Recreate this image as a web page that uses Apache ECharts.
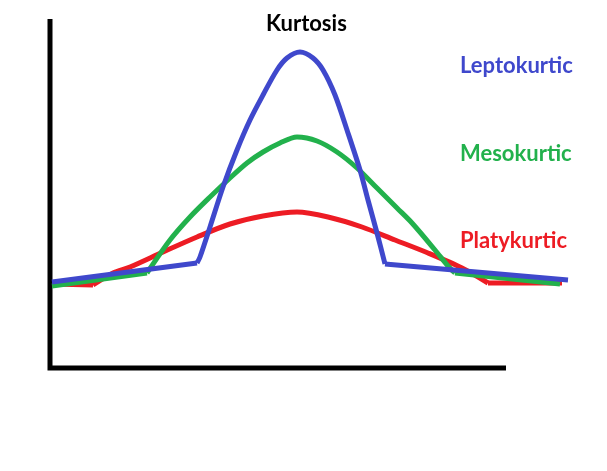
<!DOCTYPE html>
<html>
<head>
<meta charset="utf-8">
<script src="https://cdn.jsdelivr.net/npm/echarts@6/dist/echarts.min.js"></script>
<style>
  html, body { margin: 0; padding: 0; background: #fff; }
  #chart { width: 607px; height: 471px; }
</style>
</head>
<body>
<div id="chart"></div>
<script>
// hand drawn curves (x from the left axis, y up from the bottom axis)
// each curve = straight left tail, smooth bell, straight right tail
var leptoTails = [[[2,86],[147,105]], [[335,104],[518,88]]];
var leptoBell = [[147,105],[150,111],[160,141],[173,181],[187,218],[200,248],[213,273],[227,298],[237,310],[250,316],[263,310],[273,298],[285,273],[297,238],[310,198],[318,168],[327,135],[335,104]];
var mesoTails = [[[2,82],[97,95]], [[405,95],[510,84]]];
var mesoBell = [[97,95],[120,128],[140,151],[160,171],[180,190],[197,205],[213,216],[230,225],[247,231],[267,227],[287,216],[307,200],[327,180],[347,160],[362,145],[385,118],[398,102],[405,95]];
var platyTails = [[[2,84],[43,83]], [[438,85],[512,85]]];
var platyBell = [[43,83],[63,95],[80,101],[113,116],[147,131],[180,144],[213,152],[247,156],[278,151],[312,141],[345,128],[378,115],[412,100],[438,85]];
var axisPts = [[0,349],[0,0],[456,0]];

var names = ['Leptokurtic', 'Mesokurtic', 'Platykurtic'];
var colors = ['#3F48CC', '#22B14C', '#ED1C24'];

var chart = echarts.init(document.getElementById('chart'));

function piece(name, pts, color, smooth) {
    return {
        name: name,
        type: 'line',
        data: pts,
        symbol: 'none',
        smooth: smooth,
        clip: false,
        silent: true,
        lineStyle: { color: color, width: 5 }
    };
}

function curve(name, tails, bell, color) {
    return [
        piece(name, tails[0], color, false),
        piece(name, bell, color, 0.3),
        piece(name, tails[1], color, false)
    ];
}

var labelFont = { fontFamily: 'Lato', fontWeight: 'bold', fontSize: 22 };

var series = [
    // the two black axis strokes
    {
        type: 'line',
        data: axisPts,
        symbol: 'none',
        clip: false,
        silent: true,
        lineStyle: { color: '#000', width: 5, join: 'miter' }
    }
];
series = series.concat(
    curve(names[2], platyTails, platyBell, colors[2]),
    curve(names[1], mesoTails, mesoBell, colors[1]),
    curve(names[0], leptoTails, leptoBell, colors[0])
);

chart.setOption({
    animation: false,
    backgroundColor: '#fff',
    title: [
        { text: 'Kurtosis', left: 266, top: 13, padding: 0, textStyle: Object.assign({ color: '#000' }, labelFont) },
        { text: names[0], left: 460, top: 55, padding: 0, textStyle: Object.assign({ color: colors[0] }, labelFont) },
        { text: names[1], left: 460, top: 143, padding: 0, textStyle: Object.assign({ color: colors[1] }, labelFont) },
        { text: names[2], left: 460, top: 230, padding: 0, textStyle: Object.assign({ color: colors[2] }, labelFont) }
    ],
    grid: { left: 50, right: 39, top: 19, bottom: 103 },
    xAxis: { type: 'value', min: 0, max: 518, show: false },
    yAxis: { type: 'value', min: 0, max: 349, show: false },
    series: series
});
</script>
</body>
</html>
